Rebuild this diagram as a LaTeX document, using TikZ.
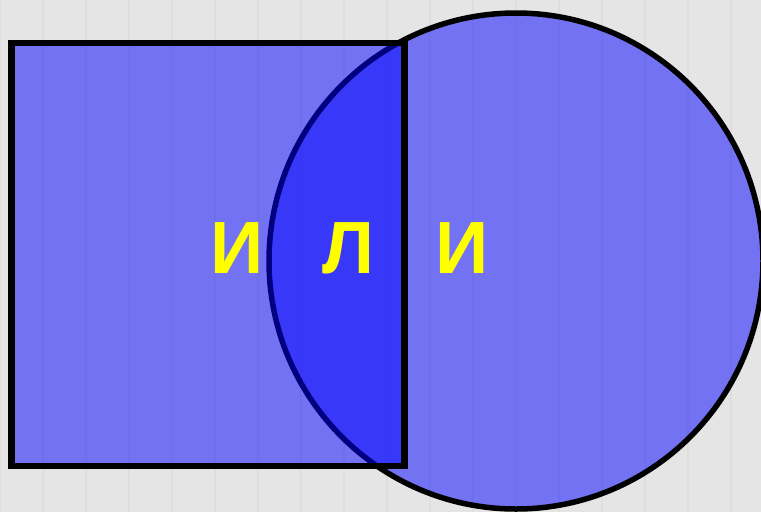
\documentclass[tikz,border=0pt]{standalone}
\usepackage{fontspec}
\usetikzlibrary{shapes.geometric}
\setmainfont{Liberation Sans}
\definecolor{bg}{RGB}{229,229,229}
\definecolor{gridc}{RGB}{220,220,220}
\definecolor{txt}{RGB}{255,255,0}
\begin{document}
\begin{tikzpicture}[x=1pt,y=-1pt,
  shapefill/.style={fill={rgb,255:red,0;green,0;blue,255},fill opacity=0.5,draw=black,draw opacity=1},
  letter/.style={text=txt,font=\fontsize{74}{74}\selectfont\bfseries,inner sep=0pt,anchor=base}]
\useasboundingbox (0,0) rectangle (761,512);
\fill[bg] (0,0) rectangle (761,512);
\draw[gridc,line width=1.5pt,opacity=0.7] (0,0) grid[step=43] (761,512);
\node[shapefill,ellipse,minimum width=494pt,minimum height=496pt,line width=5.5pt,inner sep=0pt] (circ) at (516,261) {};
\node[shapefill,rectangle,minimum width=393pt,minimum height=423pt,line width=6.5pt,inner sep=0pt] (sq) at (208,254.5) {};
\node[letter] (l1) at (237.5,273) {И};
\node[letter] (l2) at (348,273) {Л};
\node[letter] (l3) at (462.5,273) {И};
\end{tikzpicture}
\end{document}
